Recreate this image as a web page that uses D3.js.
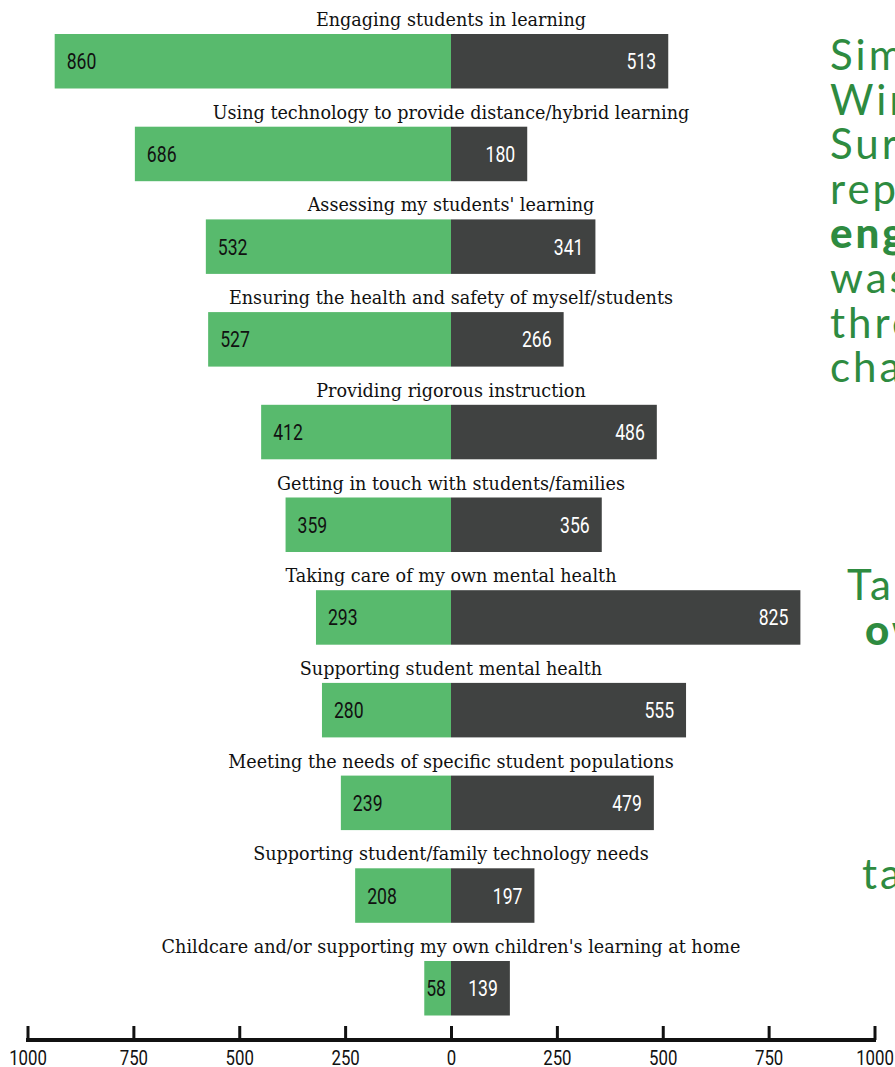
<!DOCTYPE html>
<html>
<head>
<meta charset="utf-8">
<script src="https://cdn.jsdelivr.net/npm/d3@7"></script>
<style>
  html, body { margin: 0; padding: 0; background: #fff; overflow: hidden; }
  svg { display: block; }
  .cat { font-family: "DejaVu Serif", serif; font-size: 17.6px; fill: #111; }
  .num { font-family: Roboto, "DejaVu Sans", sans-serif; font-size: 22px; font-weight: 400; }
  .axnum { font-family: Roboto, "DejaVu Sans", sans-serif; font-size: 21px; font-weight: 400; fill: #111; }
  .note { font-family: Lato, "Noto Sans", sans-serif; font-size: 42px; letter-spacing: 3px; fill: #2e8b40; }
</style>
</head>
<body>
<svg id="chart" width="895" height="1067"></svg>
<script>
// Challenges reported by teachers (left: green series, right: dark series)
const categories = [
  "Engaging students in learning",
  "Using technology to provide distance/hybrid learning",
  "Assessing my students' learning",
  "Ensuring the health and safety of myself/students",
  "Providing rigorous instruction",
  "Getting in touch with students/families",
  "Taking care of my own mental health",
  "Supporting student mental health",
  "Meeting the needs of specific student populations",
  "Supporting student/family technology needs",
  "Childcare and/or supporting my own children's learning at home"
];
const leftValues  = [860, 686, 532, 527, 412, 359, 293, 280, 239, 208, 58];
const rightValues = [513, 180, 341, 266, 486, 356, 825, 555, 479, 197, 139];
const axisTicks   = [-1000, -750, -500, -250, 0, 250, 500, 750, 1000];

// Side note text, one entry per line
const noteLines = [
  { text: "Similar to the", bold: false },
  { text: "Winter Teacher", bold: false },
  { text: "Survey, teachers", bold: false },
  { text: "reported", bold: false },
  { text: "engaging students", bold: true },
  { text: "was one of their", bold: false },
  { text: "three biggest", bold: false },
  { text: "challenges.", bold: false }
];
const noteLines2 = [
  { text: "Taking care of their", bold: false, dx: 17 },
  { text: "own mental health", bold: true, dx: 35 }
];
const noteLines3 = [
  { text: "takes a toll on many.", bold: false, dx: 32 }
];

const svg = d3.select("#chart");
const zeroX = 451;
const halfW = 423.5;
const condense = 0.8;   // horizontal squeeze for the numeric labels

// Axis scale spans -1000..1000
const x = d3.scaleLinear().domain([-1000, 1000]).range([zeroX - halfW, zeroX + halfW]);
// Bar length scales for each side
const leftLen = d3.scaleLinear().domain([0, 919]).range([0, halfW]);
const rightLen = d3.scaleLinear().domain([0, 1000]).range([0, halfW]);

const step = 92.7;
const y = d3.scaleBand().domain(categories).range([34, 34 + categories.length * step]).paddingInner(0);
const barH = 54.5;
const barTop = d => y(d);

const rows = svg.append("g").selectAll("g.row")
  .data(categories.map((c, i) => ({ c, l: leftValues[i], r: rightValues[i] })))
  .join("g").attr("class", "row");

rows.append("rect")
  .attr("x", d => zeroX - leftLen(d.l))
  .attr("y", d => barTop(d.c))
  .attr("width", d => leftLen(d.l))
  .attr("height", barH)
  .attr("fill", "#58ba6d");

rows.append("rect")
  .attr("x", zeroX)
  .attr("y", d => barTop(d.c))
  .attr("width", d => rightLen(d.r))
  .attr("height", barH)
  .attr("fill", "#404241");

rows.append("text")
  .attr("class", "cat")
  .attr("x", zeroX)
  .attr("y", d => barTop(d.c) - 8)
  .attr("text-anchor", "middle")
  .text(d => d.c);

// Left value labels: inset from the bar end, kept inside the green bar
rows.append("text")
  .attr("class", "num")
  .attr("fill", "#111")
  .text(d => d.l)
  .each(function (d) {
    const w = this.getComputedTextLength() * condense;
    const lx = Math.min(zeroX - leftLen(d.l) + 12, zeroX - 5 - w);
    const ly = barTop(d.c) + barH / 2 + 8;
    d3.select(this).attr("transform", `translate(${lx},${ly}) scale(${condense},1)`);
  });

rows.append("text")
  .attr("class", "num")
  .attr("text-anchor", "end")
  .attr("fill", "#fff")
  .text(d => d.r)
  .attr("transform", d =>
    `translate(${zeroX + rightLen(d.r) - 12},${barTop(d.c) + barH / 2 + 8}) scale(${condense},1)`);

// Bottom axis with absolute-value labels
const axis = d3.axisTop(x).tickValues(axisTicks).tickSize(14).tickFormat("");
const ag = svg.append("g").attr("transform", "translate(0,1040)").call(axis);
ag.select(".domain").remove();
ag.append("line").attr("x1", x(-1000) - 1.5).attr("x2", x(1000) + 1.5)
  .attr("stroke", "#111").attr("stroke-width", 4);
ag.selectAll(".tick line").attr("stroke", "#111").attr("stroke-width", 3);
ag.selectAll(".tick").append("text")
  .attr("class", "axnum")
  .attr("text-anchor", "middle")
  .attr("transform", `translate(0,25) scale(${condense},1)`)
  .text(d => Math.abs(d));

// Side note
const note = svg.append("g");
noteLines.forEach((ln, i) => {
  note.append("text").attr("class", "note")
    .attr("x", 830).attr("y", 70 + i * 44.6)
    .attr("font-weight", ln.bold ? 900 : 400)
    .text(ln.text);
});
noteLines2.forEach((ln, i) => {
  note.append("text").attr("class", "note")
    .attr("x", 830 + ln.dx).attr("y", 600 + i * 44.6)
    .attr("font-weight", ln.bold ? 900 : 400)
    .text(ln.text);
});
noteLines3.forEach((ln, i) => {
  note.append("text").attr("class", "note")
    .attr("x", 830 + ln.dx).attr("y", 889 + i * 44.6)
    .attr("font-weight", ln.bold ? 900 : 400)
    .text(ln.text);
});
</script>
</body>
</html>
